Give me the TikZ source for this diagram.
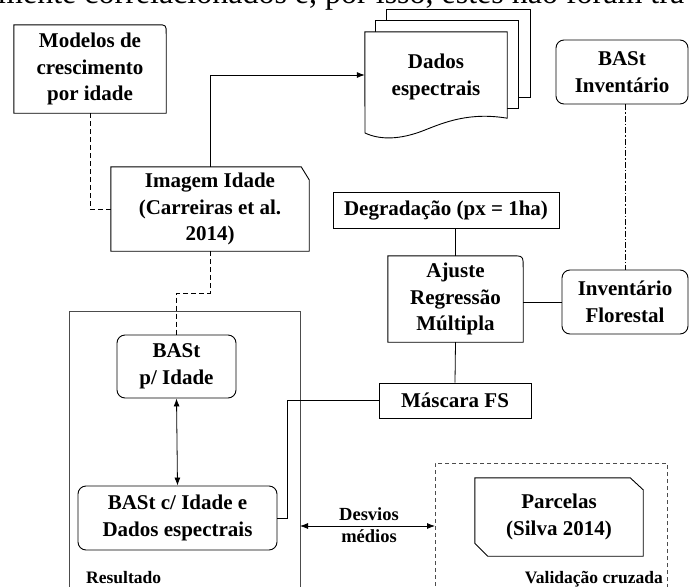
\documentclass[tikz,border=0pt]{standalone}
\usepackage{fontspec}
\setmainfont{Liberation Serif}
\usetikzlibrary{arrows.meta,calc}
\begin{document}
\begin{tikzpicture}[x=1pt,y=-1pt,
  txt/.style={align=center,font=\bfseries\fontsize{21}{26.5}\selectfont,inner sep=0pt},
  lbl/.style={align=center,font=\bfseries\fontsize{17.5}{22}\selectfont,inner sep=0pt},
  bord/.style={line width=0.9pt,black},
  rbox/.style={txt,draw,bord,rounded corners=8pt},
  sbox/.style={txt,draw,bord},
  conn/.style={line width=0.8pt,black},
  dconn/.style={conn,dash pattern=on 5pt off 3pt},
  ddconn/.style={conn,dash pattern=on 6pt off 2pt on 1.5pt off 2pt},
  tip/.style={-{Latex[length=8pt,width=6pt]}},
  frame/.style={draw=black!70,line width=0.5pt,inner sep=0pt}]
\useasboundingbox (0,0) rectangle (689,587);
\clip (0,0) rectangle (689,587);
\fill[white] (0,0) rectangle (689,587);

% top text fragment (cut by the picture's upper edge, as in the reference)
\node[anchor=base west,inner sep=0pt,font=\fontsize{32}{34}\selectfont] (toptxt) at (-2,3) {mente correlacionados e, por isso, estes não foram tra};

% frames
\node[frame,minimum width=231,minimum height=290] (resframe) at (184.5,456) {};
\node[frame,dash pattern=on 4pt off 3pt,minimum width=232,minimum height=138] (valframe) at (551,532) {};
\node[lbl,anchor=base west] (resl) at (86,583) {Resultado};
\node[lbl,anchor=base east] (vall) at (663,583) {Validação cruzada};

% Modelos
\node[txt,minimum width=152,minimum height=88] (modelos) at (90,69) {Modelos de\\crescimento\\por idade};
\draw[bord] (modelos.south west) -- (modelos.north west) -- ($(modelos.north east)+(-9,0)$) .. controls (modelos.north east) .. ($(modelos.north east)+(0,9)$) -- (modelos.south east) -- cycle;

% Imagem
\node[txt,minimum width=198,minimum height=84] (imagem) at (210,209) {Imagem Idade\\(Carreiras et al.\\2014)};
\draw[bord] (imagem.south west) -- (imagem.north west) -- ($(imagem.north east)+(-8,0)$) -- ($(imagem.north east)+(0,13)$) -- (imagem.south east) -- cycle;

% Dados espectrais (multi document)
\path node[minimum width=142,minimum height=86,inner sep=0pt] (dados) at (436,75) {};
\draw[line width=0.7pt,fill=white] ($(dados.north west)+(22,-22)$) rectangle ($(dados.south east)+(23,-21)$);
\draw[line width=1.1pt,fill=white] ($(dados.north west)+(11,-11)$) rectangle ($(dados.south east)+(11,-10)$);
\draw[bord,fill=white] (dados.north west) -- (dados.north east) -- (dados.south east)
  .. controls (470,112) and (445,122) .. (425,130)
  .. controls (400,140) and (380,140) .. (365,133) -- cycle;
\node[txt] (dadostxt) at ($(dados.center)+(0,2)$) {Dados\\espectrais};

% BASt Inventario
\node[rbox,minimum width=132,minimum height=64] (bastinv) at (622,72) {BASt\\Inventário};

% Degradacao
\node[sbox,minimum width=226,minimum height=36] (degr) at (446,210) {Degradação (px = 1ha)};

% Ajuste
\node[txt,minimum width=135,minimum height=86] (ajuste) at (455.5,299) {Ajuste\\Regressão\\Múltipla};
\draw[bord] (ajuste.south west) -- (ajuste.north west) -- ($(ajuste.north east)+(-12,0)$) .. controls (ajuste.north east) .. ($(ajuste.north east)+(0,12)$) -- (ajuste.south east) -- cycle;

% Inventario Florestal
\node[rbox,minimum width=126,minimum height=64] (invflor) at (625,302) {Inventário\\Florestal};

% Mascara
\node[sbox,minimum width=152,minimum height=35] (mascara) at (455,400.5) {Máscara FS};

% BASt p/ Idade
\node[rbox,minimum width=119,minimum height=63] (bastp) at (176.5,366.5) {BASt\\p/ Idade};

% BASt c/ Idade
\node[rbox,minimum width=199,minimum height=64] (bastc) at (177.5,518) {BASt c/ Idade e\\Dados espectrais};

% Parcelas
\node[txt,minimum width=168,minimum height=78] (parcelas) at (559,517) {Parcelas\\(Silva 2014)};
\draw[bord] (parcelas.north west) -- ($(parcelas.north east)+(-13,0)$) -- ($(parcelas.north east)+(0,12)$) -- (parcelas.south east) -- ($(parcelas.south west)+(13,0)$) -- ($(parcelas.south west)+(0,-13)$) -- cycle;

% connectors
\draw[dconn] (modelos.south) |- (imagem.west);
\draw[conn,tip] (imagem.north) |- (dados.west);
\draw[ddconn] (bastinv.south -| invflor.north) -- (invflor.north);
\draw[conn] (ajuste.north |- degr.south) -- (ajuste.north);
\draw[conn] (ajuste.east |- invflor.west) -- (invflor.west);
\draw[conn] (ajuste.south) -- (mascara.north);
\draw[conn] (mascara.west) -- ++(-91,0) |- (bastc.east);
\draw[dconn] (imagem.south) -- ++(0,42) -| (bastp.north);
\draw[conn,{Latex[length=8pt,width=6pt]}-{Latex[length=8pt,width=6pt]}] (bastp.south) -- (bastc.north);

\coordinate (dl) at (300,526);
\coordinate (dr) at (435,526);
\node[lbl,font=\bfseries\fontsize{18.5}{22}\selectfont] (desv) at (369,525) {Desvios\\médios};
\draw[conn,{Latex[length=8pt,width=6pt]}-{Latex[length=8pt,width=6pt]}] (dl) -- (dr);
\end{tikzpicture}
\end{document}
